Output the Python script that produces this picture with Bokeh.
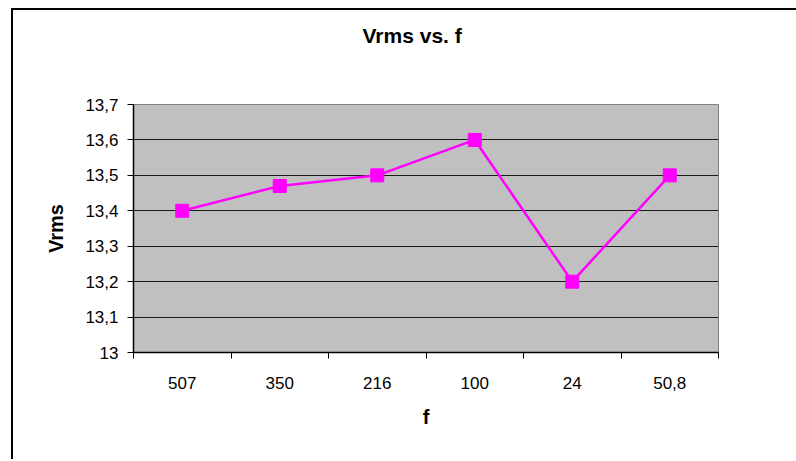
from bokeh.plotting import figure
from bokeh.models import Range1d, FixedTicker, Title
from bokeh.embed import file_html
from bokeh.resources import INLINE

# ---- data ----
categories = ["507", "350", "216", "100", "24", "50,8"]
vrms = [13.4, 13.47, 13.5, 13.6, 13.2, 13.5]
y_ticks = [13.0, 13.1, 13.2, 13.3, 13.4, 13.5, 13.6, 13.7]
y_tick_labels = ["13", "13,1", "13,2", "13,3", "13,4", "13,5", "13,6", "13,7"]
title_text = "Vrms vs. f"
x_title = "f"
y_title = "Vrms"

FONT = "Liberation Sans"
x = list(range(1, len(categories) + 1))

# the chart's outer frame runs past the right edge of the window, as in the reference
W, H = 792, 451
p = figure(width=W, height=H, output_backend="svg", toolbar_location=None, title=None,
           x_range=Range1d(0.5, len(categories) + 0.5),
           y_range=Range1d(y_ticks[0], y_ticks[-1]),
           min_border_left=120, min_border_right=W - 705,
           min_border_top=94, min_border_bottom=H - 342,
           background_fill_color="#C0C0C0", border_fill_color="white",
           outline_line_color="#808080", outline_line_width=1,
           styles={"box-shadow": "-2px -2px 0px 0px black",
                   "margin-left": "13px", "margin-top": "10px"})

# spacer between frame and title, then the title itself (outermost)
p.add_layout(Title(text=" ", text_font_size="1px", standoff=54), "above")
p.add_layout(Title(text=title_text, align="left", offset=229, standoff=2,
                   text_font=FONT, text_font_size="21px", text_font_style="bold",
                   text_color="black"), "above")

# x axis: labels at category centres, tick marks at category boundaries
p.xaxis.ticker = FixedTicker(ticks=x, minor_ticks=[v - 0.5 for v in x] + [x[-1] + 0.5])
p.xaxis.major_label_overrides = {v: c for v, c in zip(x, categories)}
p.xaxis.major_tick_out = 0
p.xaxis.major_tick_in = 0
p.xaxis.minor_tick_out = 6
p.xaxis.minor_tick_in = 0
p.xaxis.minor_tick_line_color = "black"
p.xaxis.major_label_standoff = 18
p.xaxis.axis_label = x_title
p.xaxis.axis_label_standoff = 14

# y axis
p.yaxis.ticker = FixedTicker(ticks=y_ticks, minor_ticks=[])
p.yaxis.major_label_overrides = {v: s for v, s in zip(y_ticks, y_tick_labels)}
p.yaxis.major_tick_out = 6
p.yaxis.major_tick_in = 0
p.yaxis.minor_tick_out = 0
p.yaxis.major_label_standoff = 9
p.yaxis.axis_label = y_title
p.yaxis.axis_label_standoff = 15

for ax in (p.xaxis, p.yaxis):
    ax.axis_line_color = "black"
    ax.axis_line_width = 1.5
    ax.major_tick_line_color = "black"
    ax.major_label_text_font = FONT
    ax.major_label_text_font_size = "17px"
    ax.major_label_text_color = "black"
    ax.axis_label_text_font = FONT
    ax.axis_label_text_font_size = "20px"
    ax.axis_label_text_font_style = "bold"
    ax.axis_label_text_color = "black"

p.xgrid.visible = False
p.ygrid.ticker = FixedTicker(ticks=y_ticks)
p.ygrid.grid_line_color = "#1a1a1a"
p.ygrid.grid_line_width = 1

# series
p.line(x, vrms, line_color="#FF00FF", line_width=2.5)
p.scatter(x, vrms, marker="square", size=13, fill_color="#FF00FF", line_color="#FF00FF")

html = file_html(p, INLINE)
html = html.replace("<head>", "<head><style>html,body{overflow:hidden;margin:0;}</style>", 1)
open("out.html", "w").write(html)
